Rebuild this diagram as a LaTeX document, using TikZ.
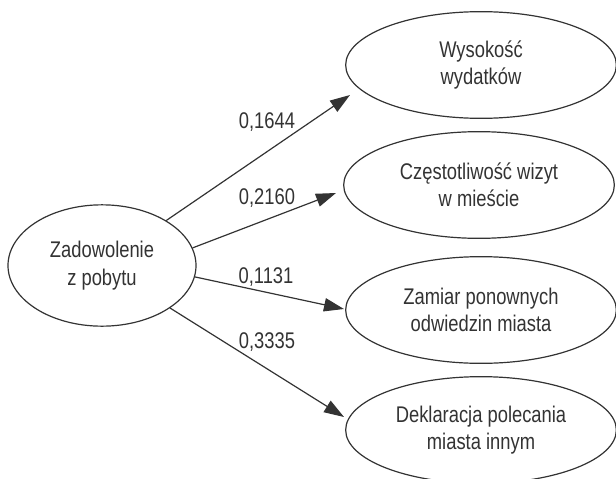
\documentclass[tikz,border=0pt]{standalone}
\usepackage{fontspec}
\setmainfont{Liberation Sans}[FakeStretch=0.81]
\usetikzlibrary{shapes.geometric, arrows.meta}

\definecolor{inkgray}{HTML}{333333}

\tikzset{
    cause/.style={ellipse, draw=inkgray, line width=0.9pt, text=inkgray, align=center,
        inner sep=0pt, minimum width=141pt, minimum height=91pt, font=\fontsize{17}{20.5}\selectfont},
    effect/.style={ellipse, draw=inkgray, line width=0.9pt, text=inkgray, align=center,
        inner sep=0pt, minimum width=203pt, minimum height=80pt, font=\fontsize{17}{20.5}\selectfont},
    weight/.style={text=inkgray, inner sep=0pt, font=\fontsize{17}{20.5}\selectfont},
    arr/.style={draw=inkgray, line width=0.9pt, -{Triangle[length=15pt, width=10pt]}}
}

\begin{document}
\begin{tikzpicture}[x=0.75pt, y=-0.75pt]
    \useasboundingbox (0, 0) rectangle (616, 478);

    % satisfaction on the left
    \node[cause] (zad) at (102, 265.5) {Zadowolenie \\ z pobytu};

    % four outcomes on the right
    \node[effect] (wys) at (481, 65) {Wysokość \\ wydatków};
    \node[effect] (cze) at (479, 185) {Częstotliwość wizyt \\ w mieście};
    \node[effect] (zam) at (481, 310) {Zamiar ponownych \\ odwiedzin miasta};
    \node[effect] (dek) at (481, 430) {Deklaracja polecania \\ miasta innym};

    % arrow tips stop short of the ellipses
    \coordinate (t1) at (350, 95);
    \coordinate (t2) at (336, 193);
    \coordinate (t3) at (344, 309);
    \coordinate (t4) at (344, 417);

    \draw[arr] (zad.35) -- (t1);
    \draw[arr] (zad.11) -- (t2);
    \draw[arr] (zad.-7.5) -- (t3);
    \draw[arr] (zad.-32.5) -- (t4);

    % path coefficients
    \node[weight] (w1) at (267, 122) {0,1644};
    \node[weight] (w2) at (267, 198) {0,2160};
    \node[weight] (w3) at (266, 277) {0,1131};
    \node[weight] (w4) at (267, 342) {0,3335};
\end{tikzpicture}
\end{document}
